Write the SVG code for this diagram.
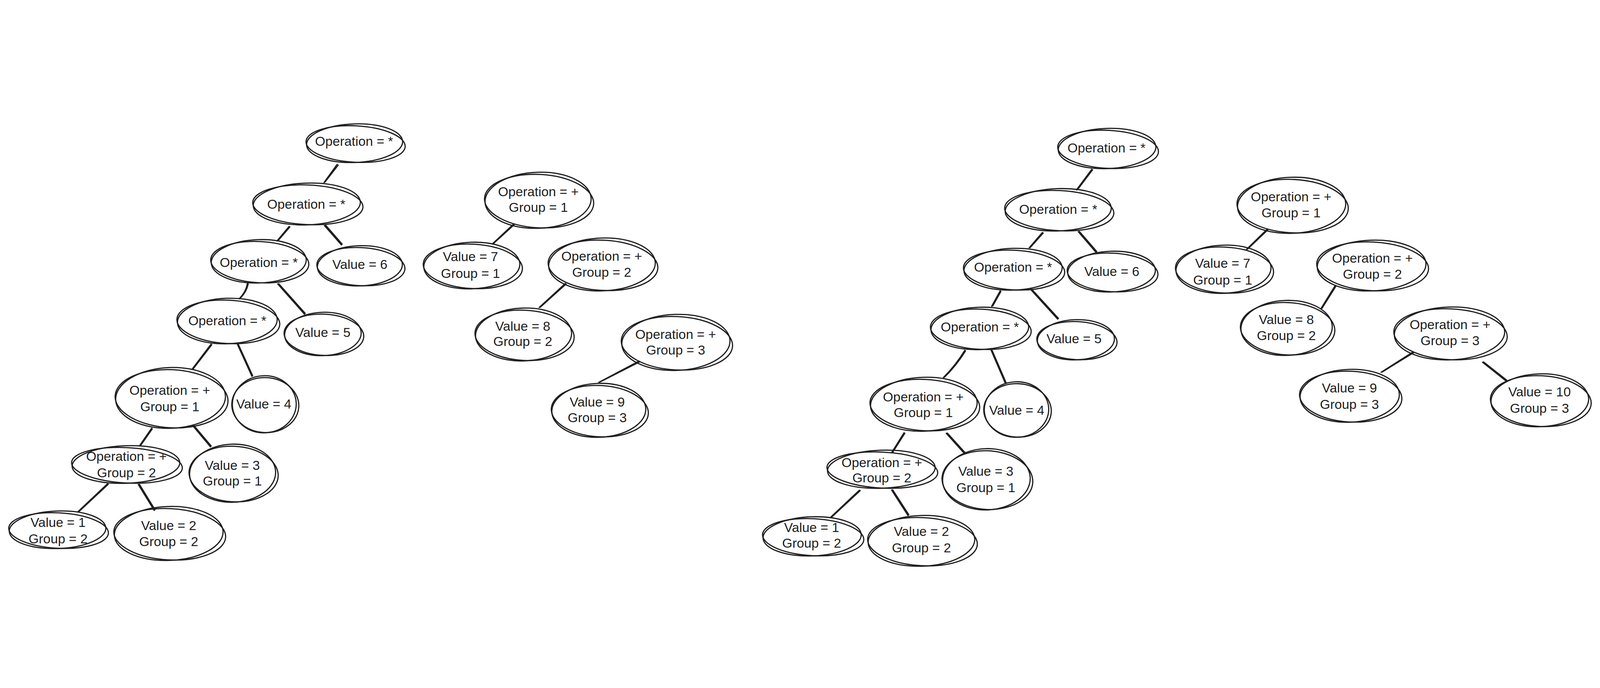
<svg xmlns="http://www.w3.org/2000/svg" width="6060" height="1760" viewBox="0 0 6060 1760" style="width:100vw;height:100vh">
<style>
.bg{fill:#ffffff}
.node ellipse{fill:none;stroke:#1e1e1e;stroke-width:4.5;stroke-linecap:round}
.node text{font-family:"Liberation Sans",Arial,sans-serif;font-size:50px;text-anchor:middle;fill:#1e1e1e}
.edges path{fill:none;stroke:#1e1e1e;stroke-width:4.5;stroke-linecap:round}
</style>
<rect class="bg" x="0" y="0" width="6060" height="1760"/>
<g id="connectors" class="edges">
<path d="M1277,200 L1227,269 M1281,203 L1231,267"/>
<path d="M1095,435 L1049,490 M1098,437 L1053,489"/>
<path d="M1229,432 L1293,505 M1233,430 L1296,502"/>
<path d="M937,651 Q932,682 906,709 M940,653 Q934,683 909,708"/>
<path d="M1052,653 L1153,767 M1056,652 L1156,764"/>
<path d="M799,881 L727,976 M802,883 L731,975"/>
<path d="M899,881 L954,1002 M903,882 L957,1000"/>
<path d="M574,1199 L528,1266 M577,1201 L532,1265"/>
<path d="M729,1188 L797,1269 M733,1187 L800,1266"/>
<path d="M407,1409 L295,1515 M410,1411 L299,1514"/>
<path d="M524,1412 L584,1510 M528,1411 L587,1507"/>
<path d="M1944,427 L1866,500 M1947,429 L1870,499"/>
<path d="M2141,651 L2042,742 M2144,653 L2046,741"/>
<path d="M2420,945 L2268,1025 M2422,948 L2272,1024"/>
<path d="M4135,219 L4077,297 M4138,221 L4081,296"/>
<path d="M3948,458 L3898,516 M3951,460 L3902,515"/>
<path d="M4084,455 L4151,533 M4088,454 L4154,530"/>
<path d="M3788,679 L3756,737 M3791,681 L3760,736"/>
<path d="M3903,673 L4006,786 M3907,672 L4009,783"/>
<path d="M3654,904 Q3620,960 3573,1007 M3657,906 Q3622,962 3577,1006"/>
<path d="M3754,904 L3807,1027 M3758,905 L3810,1025"/>
<path d="M3424,1216 L3377,1291 M3427,1218 L3381,1290"/>
<path d="M3584,1218 L3652,1294 M3588,1217 L3655,1291"/>
<path d="M3255,1433 L3147,1535 M3258,1435 L3151,1534"/>
<path d="M3377,1433 L3439,1529 M3381,1432 L3442,1526"/>
<path d="M4799,446 L4721,522 M4802,448 L4725,521"/>
<path d="M5057,659 L5003,746 M5060,661 L5007,745"/>
<path d="M5352,910 L5231,987 M5354,913 L5235,986"/>
<path d="M5615,949 L5704,1020 M5619,948 L5707,1017"/>
</g>
<g id="n-a1" class="node"><ellipse cx="1343" cy="120" rx="182" ry="73" transform="rotate(-2 1343 120)"/><ellipse cx="1347" cy="123" rx="188" ry="69" transform="rotate(3 1343 120)"/><text x="1341" y="130">Operation = *</text></g>
<g id="n-b1" class="node"><ellipse cx="1162" cy="350" rx="203" ry="79" transform="rotate(-2 1162 350)"/><ellipse cx="1166" cy="353" rx="209" ry="75" transform="rotate(2.5 1162 350)"/><text x="1160" y="368">Operation = *</text></g>
<g id="n-c1" class="node"><ellipse cx="980" cy="567" rx="180" ry="82" transform="rotate(-2 980 567)"/><ellipse cx="984" cy="570" rx="186" ry="78" transform="rotate(3 980 567)"/><text x="980" y="588">Operation = *</text></g>
<g id="n-d1" class="node"><ellipse cx="1363" cy="584" rx="161" ry="76" transform="rotate(-2 1363 584)"/><ellipse cx="1367" cy="587" rx="167" ry="72" transform="rotate(3 1363 584)"/><text x="1363" y="596">Value = 6</text></g>
<g id="n-e1" class="node"><ellipse cx="861" cy="793" rx="189" ry="86" transform="rotate(-2 861 793)"/><ellipse cx="865" cy="796" rx="195" ry="82" transform="rotate(3 861 793)"/><text x="861" y="809">Operation = *</text></g>
<g id="n-f1" class="node"><ellipse cx="1223" cy="842" rx="145" ry="82" transform="rotate(-2 1223 842)"/><ellipse cx="1227" cy="845" rx="151" ry="78" transform="rotate(3 1223 842)"/><text x="1223" y="854">Value = 5</text></g>
<g id="n-g1" class="node"><ellipse cx="646" cy="1084" rx="208" ry="115" transform="rotate(-2 646 1084)"/><ellipse cx="650" cy="1087" rx="214" ry="110" transform="rotate(3 646 1084)"/><text x="643" y="1073">Operation = +</text><text x="643" y="1135">Group = 1</text></g>
<g id="n-h1" class="node"><ellipse cx="1001" cy="1108" rx="121" ry="108" transform="rotate(-2 1001 1108)"/><ellipse cx="1005" cy="1111" rx="127" ry="104" transform="rotate(3 1001 1108)"/><text x="999" y="1124">Value = 4</text></g>
<g id="n-i1" class="node"><ellipse cx="477" cy="1336" rx="204" ry="71" transform="rotate(-2 477 1336)"/><ellipse cx="481" cy="1339" rx="210" ry="67" transform="rotate(3 477 1336)"/><text x="479" y="1323">Operation = +</text><text x="479" y="1385">Group = 2</text></g>
<g id="n-j1" class="node"><ellipse cx="881" cy="1369" rx="163" ry="110" transform="rotate(-2 881 1369)"/><ellipse cx="885" cy="1372" rx="169" ry="105" transform="rotate(3 881 1369)"/><text x="880" y="1356">Value = 3</text><text x="880" y="1415">Group = 1</text></g>
<g id="n-k1" class="node"><ellipse cx="218" cy="1583" rx="183" ry="71" transform="rotate(-2 218 1583)"/><ellipse cx="222" cy="1586" rx="189" ry="67" transform="rotate(3 218 1583)"/><text x="220" y="1573">Value = 1</text><text x="220" y="1634">Group = 2</text></g>
<g id="n-l1" class="node"><ellipse cx="639" cy="1597" rx="206" ry="102" transform="rotate(-2 639 1597)"/><ellipse cx="643" cy="1600" rx="212" ry="97" transform="rotate(3 639 1597)"/><text x="639" y="1584">Value = 2</text><text x="639" y="1645">Group = 2</text></g>
<g id="n-m1" class="node"><ellipse cx="2038" cy="336" rx="201" ry="106" transform="rotate(-2 2038 336)"/><ellipse cx="2042" cy="339" rx="207" ry="101" transform="rotate(3 2038 336)"/><text x="2039" y="321">Operation = +</text><text x="2039" y="380">Group = 1</text></g>
<g id="n-n1" class="node"><ellipse cx="1787" cy="583" rx="182" ry="88" transform="rotate(-2 1787 583)"/><ellipse cx="1791" cy="586" rx="188" ry="84" transform="rotate(3 1787 583)"/><text x="1782" y="567">Value = 7</text><text x="1782" y="630">Group = 1</text></g>
<g id="n-o1" class="node"><ellipse cx="2280" cy="579" rx="202" ry="100" transform="rotate(-2 2280 579)"/><ellipse cx="2284" cy="582" rx="208" ry="95" transform="rotate(3 2280 579)"/><text x="2279" y="565">Operation = +</text><text x="2279" y="626">Group = 2</text></g>
<g id="n-p1" class="node"><ellipse cx="1983" cy="844" rx="182" ry="100" transform="rotate(-2 1983 844)"/><ellipse cx="1987" cy="847" rx="188" ry="95" transform="rotate(3 1983 844)"/><text x="1980" y="829">Value = 8</text><text x="1980" y="888">Group = 2</text></g>
<g id="n-q1" class="node"><ellipse cx="2560" cy="874" rx="205" ry="106" transform="rotate(-2 2560 874)"/><ellipse cx="2564" cy="877" rx="211" ry="101" transform="rotate(3 2560 874)"/><text x="2559" y="861">Operation = +</text><text x="2559" y="920">Group = 3</text></g>
<g id="n-r1" class="node"><ellipse cx="2268" cy="1131" rx="178" ry="102" transform="rotate(-2 2268 1131)"/><ellipse cx="2272" cy="1134" rx="184" ry="97" transform="rotate(3 2268 1131)"/><text x="2262" y="1116">Value = 9</text><text x="2262" y="1176">Group = 3</text></g>
<g id="n-a2" class="node"><ellipse cx="4193" cy="140" rx="185" ry="76" transform="rotate(-2 4193 140)"/><ellipse cx="4197" cy="143" rx="191" ry="72" transform="rotate(3 4193 140)"/><text x="4191" y="155">Operation = *</text></g>
<g id="n-b2" class="node"><ellipse cx="4008" cy="372" rx="201" ry="80" transform="rotate(-2 4008 372)"/><ellipse cx="4012" cy="375" rx="207" ry="76" transform="rotate(3 4008 372)"/><text x="4008" y="388">Operation = *</text></g>
<g id="n-c2" class="node"><ellipse cx="3837" cy="597" rx="186" ry="79" transform="rotate(-2 3837 597)"/><ellipse cx="3841" cy="600" rx="192" ry="75" transform="rotate(3 3837 597)"/><text x="3837" y="607">Operation = *</text></g>
<g id="n-d2" class="node"><ellipse cx="4210" cy="606" rx="166" ry="77" transform="rotate(-2 4210 606)"/><ellipse cx="4214" cy="609" rx="172" ry="73" transform="rotate(3 4210 606)"/><text x="4211" y="622">Value = 6</text></g>
<g id="n-e2" class="node"><ellipse cx="3711" cy="821" rx="185" ry="80" transform="rotate(-2 3711 821)"/><ellipse cx="3715" cy="824" rx="191" ry="76" transform="rotate(3 3711 821)"/><text x="3711" y="832">Operation = *</text></g>
<g id="n-f2" class="node"><ellipse cx="4075" cy="864" rx="146" ry="76" transform="rotate(-2 4075 864)"/><ellipse cx="4079" cy="867" rx="152" ry="72" transform="rotate(3 4075 864)"/><text x="4068" y="877">Value = 5</text></g>
<g id="n-g2" class="node"><ellipse cx="3499" cy="1108" rx="202" ry="102" transform="rotate(-2 3499 1108)"/><ellipse cx="3503" cy="1111" rx="208" ry="97" transform="rotate(3 3499 1108)"/><text x="3497" y="1098">Operation = +</text><text x="3497" y="1157">Group = 1</text></g>
<g id="n-h2" class="node"><ellipse cx="3850" cy="1128" rx="122" ry="105" transform="rotate(-2 3850 1128)"/><ellipse cx="3854" cy="1131" rx="128" ry="101" transform="rotate(3 3850 1128)"/><text x="3851" y="1148">Value = 4</text></g>
<g id="n-i2" class="node"><ellipse cx="3338" cy="1354" rx="204" ry="72" transform="rotate(-2 3338 1354)"/><ellipse cx="3342" cy="1357" rx="210" ry="68" transform="rotate(3 3338 1354)"/><text x="3340" y="1346">Operation = +</text><text x="3340" y="1404">Group = 2</text></g>
<g id="n-j2" class="node"><ellipse cx="3736" cy="1392" rx="166" ry="116" transform="rotate(-2 3736 1392)"/><ellipse cx="3740" cy="1395" rx="172" ry="111" transform="rotate(3 3736 1392)"/><text x="3734" y="1379">Value = 3</text><text x="3734" y="1441">Group = 1</text></g>
<g id="n-k2" class="node"><ellipse cx="3076" cy="1608" rx="186" ry="74" transform="rotate(-2 3076 1608)"/><ellipse cx="3080" cy="1611" rx="192" ry="70" transform="rotate(3 3076 1608)"/><text x="3074" y="1592">Value = 1</text><text x="3074" y="1651">Group = 2</text></g>
<g id="n-l2" class="node"><ellipse cx="3490" cy="1625" rx="202" ry="96" transform="rotate(-2 3490 1625)"/><ellipse cx="3494" cy="1628" rx="208" ry="91" transform="rotate(3 3490 1625)"/><text x="3490" y="1606">Value = 2</text><text x="3490" y="1668">Group = 2</text></g>
<g id="n-m2" class="node"><ellipse cx="4892" cy="355" rx="205" ry="106" transform="rotate(-2 4892 355)"/><ellipse cx="4896" cy="358" rx="211" ry="101" transform="rotate(3 4892 355)"/><text x="4890" y="340">Operation = +</text><text x="4890" y="401">Group = 1</text></g>
<g id="n-n2" class="node"><ellipse cx="4634" cy="597" rx="180" ry="91" transform="rotate(-2 4634 597)"/><ellipse cx="4638" cy="600" rx="186" ry="87" transform="rotate(3 4634 597)"/><text x="4631" y="592">Value = 7</text><text x="4631" y="655">Group = 1</text></g>
<g id="n-o2" class="node"><ellipse cx="5195" cy="583" rx="206" ry="96" transform="rotate(-2 5195 583)"/><ellipse cx="5199" cy="586" rx="212" ry="92" transform="rotate(3 5195 583)"/><text x="5198" y="572">Operation = +</text><text x="5198" y="633">Group = 2</text></g>
<g id="n-p2" class="node"><ellipse cx="4873" cy="819" rx="173" ry="104" transform="rotate(-2 4873 819)"/><ellipse cx="4877" cy="822" rx="179" ry="99" transform="rotate(3 4873 819)"/><text x="4872" y="804">Value = 8</text><text x="4872" y="865">Group = 2</text></g>
<g id="n-q2" class="node"><ellipse cx="5490" cy="840" rx="209" ry="100" transform="rotate(-2 5490 840)"/><ellipse cx="5494" cy="843" rx="215" ry="96" transform="rotate(3 5490 840)"/><text x="5492" y="824">Operation = +</text><text x="5492" y="884">Group = 3</text></g>
<g id="n-r2" class="node"><ellipse cx="5112" cy="1076" rx="188" ry="100" transform="rotate(-2 5112 1076)"/><ellipse cx="5116" cy="1079" rx="194" ry="96" transform="rotate(3 5112 1076)"/><text x="5111" y="1063">Value = 9</text><text x="5111" y="1125">Group = 3</text></g>
<g id="n-s2" class="node"><ellipse cx="5832" cy="1093" rx="185" ry="100" transform="rotate(-2 5832 1093)"/><ellipse cx="5836" cy="1096" rx="191" ry="96" transform="rotate(3 5832 1093)"/><text x="5831" y="1079">Value = 10</text><text x="5831" y="1141">Group = 3</text></g>
</svg>
